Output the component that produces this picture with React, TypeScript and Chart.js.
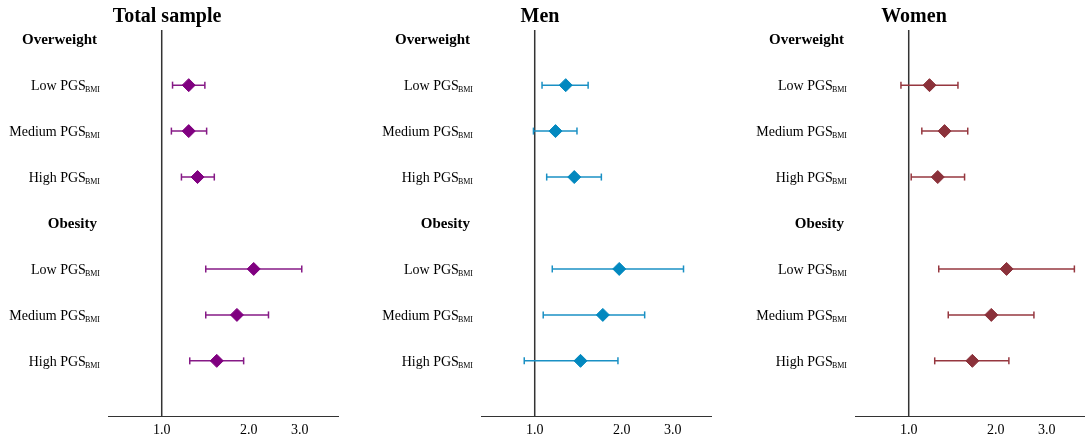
import React, { useEffect, useRef } from "react";
import { Chart, registerables } from "chart.js";

Chart.register(...registerables);

// ---------- data ----------
const panelTitles = ["Total sample", "Men", "Women"];
const outcomeLabels = ["Overweight", "Obesity"];
const pgsLabels = ["Low PGS", "Medium PGS", "High PGS", "Low PGS", "Medium PGS", "High PGS"];
const pgsSubscript = "BMI";
const headerRows = [0, 4];
const estimateRows = [1, 2, 3, 5, 6, 7];
const xTicks = [1.0, 2.0, 3.0];
const refValue = 1.0;

const totalOR = [1.24, 1.24, 1.33, 2.08, 1.82, 1.55];
const totalLo = [1.09, 1.08, 1.17, 1.42, 1.42, 1.25];
const totalHi = [1.41, 1.43, 1.52, 3.05, 2.34, 1.92];

const menOR = [1.28, 1.18, 1.37, 1.96, 1.72, 1.44];
const menLo = [1.06, 0.99, 1.1, 1.15, 1.07, 0.92];
const menHi = [1.53, 1.4, 1.7, 3.27, 2.4, 1.94];

const womenOR = [1.18, 1.33, 1.26, 2.18, 1.93, 1.66];
const womenLo = [0.94, 1.11, 1.02, 1.27, 1.37, 1.23];
const womenHi = [1.48, 1.6, 1.56, 3.74, 2.71, 2.22];

const panelColors = ["#800080", "#0288BF", "#8B313A"];
const whiskerColors = ["#861A86", "#1A90C4", "#96373F"];

// ---------- layout ----------
const X_MIN = 0.652;
const X_MAX = 4.07;
const Y_MIN = -0.2;
const Y_MAX = 8.2;
const PANEL_W = 373;
const PANEL_H = 440;
const PANEL_LEFTS = [0, 373, 747];
const SERIF = '"Liberation Serif", "Times New Roman", serif';

type PanelProps = {
  title: string;
  or: number[];
  lo: number[];
  hi: number[];
  color: string;
  whisker: string;
};

function Panel({ title, or, lo, hi, color, whisker }: PanelProps) {
  const ref = useRef<HTMLCanvasElement | null>(null);

  useEffect(() => {
    if (!ref.current) return;

    const labelPlugin = {
      id: "forestLabels",
      afterDraw(chart: any) {
        const ctx = chart.ctx;
        const yScale = chart.scales.y;
        ctx.save();
        ctx.fillStyle = "#000";
        // title
        ctx.font = `bold 20px ${SERIF}`;
        ctx.textAlign = "center";
        ctx.textBaseline = "alphabetic";
        ctx.fillText(title, 167, 22);
        // headers
        ctx.font = `bold 15px ${SERIF}`;
        ctx.textAlign = "right";
        headerRows.forEach((r, i) => {
          const y = yScale.getPixelForValue(r);
          ctx.fillText(outcomeLabels[i], 97, y + 5);
        });
        // row labels with subscript
        estimateRows.forEach((r, i) => {
          const y = yScale.getPixelForValue(r);
          ctx.font = `8px ${SERIF}`;
          const subW = ctx.measureText(pgsSubscript).width;
          ctx.textAlign = "right";
          ctx.fillText(pgsSubscript, 100, y + 7);
          ctx.font = `14px ${SERIF}`;
          ctx.fillText(pgsLabels[i], 100 - subW + 1, y + 5);
        });
        ctx.restore();
      },
    };

    const whiskerSets = estimateRows.map((r, i) => ({
      data: [
        { x: lo[i], y: r },
        { x: hi[i], y: r },
      ],
      showLine: true,
      borderColor: whisker,
      borderWidth: 1.5,
      pointStyle: "line",
      rotation: 90,
      pointRadius: 3.5,
      pointBorderWidth: 1.5,
      pointBorderColor: whisker,
      pointBackgroundColor: whisker,
      order: 2,
    }));

    const chart = new Chart(ref.current, {
      type: "scatter",
      data: {
        datasets: [
          {
            data: [
              { x: refValue, y: Y_MIN },
              { x: refValue, y: Y_MAX },
            ],
            showLine: true,
            borderColor: "#333",
            borderWidth: 1.5,
            pointRadius: 0,
            order: 3,
          } as any,
          ...(whiskerSets as any[]),
          {
            data: estimateRows.map((r, i) => ({ x: or[i], y: r })),
            pointStyle: "rectRot",
            pointRadius: 6.5,
            pointBorderWidth: 1,
            pointBackgroundColor: color,
            pointBorderColor: color,
            order: 0,
          } as any,
        ],
      },
      options: {
        responsive: false,
        animation: false,
        events: [],
        layout: { padding: { left: 108, right: PANEL_W - 338, top: 30, bottom: 0 } },
        plugins: {
          legend: { display: false },
          tooltip: { enabled: false },
          title: { display: false },
        },
        scales: {
          x: {
            type: "logarithmic",
            min: X_MIN,
            max: X_MAX,
            afterBuildTicks: (scale: any) => {
              scale.ticks = xTicks.map((v) => ({ value: v }));
            },
            afterFit: (scale: any) => {
              scale.height = 24;
            },
            grid: { display: false, drawTicks: false },
            border: { display: true, color: "#333", width: 1 },
            ticks: {
              padding: 6,
              color: "#000",
              font: { family: SERIF, size: 14 },
              maxRotation: 0,
              autoSkip: false,
              callback: (v: any) => Number(v).toFixed(1),
            },
          },
          y: {
            type: "linear",
            display: false,
            reverse: true,
            min: Y_MIN,
            max: Y_MAX,
          },
        },
      } as any,
      plugins: [labelPlugin],
    });

    return () => chart.destroy();
  }, [title, or, lo, hi, color, whisker]);

  return <canvas ref={ref} width={PANEL_W} height={PANEL_H} style={{ display: "block" }} />;
}

export default function App() {
  const ors = [totalOR, menOR, womenOR];
  const los = [totalLo, menLo, womenLo];
  const his = [totalHi, menHi, womenHi];
  return (
    <div
      style={{
        position: "fixed",
        left: 0,
        top: 0,
        width: 1085,
        height: 440,
        overflow: "hidden",
        background: "#fff",
      }}
    >
      {panelTitles.map((t, i) => (
        <div key={t} style={{ position: "absolute", left: PANEL_LEFTS[i], top: 0 }}>
          <Panel
            title={t}
            or={ors[i]}
            lo={los[i]}
            hi={his[i]}
            color={panelColors[i]}
            whisker={whiskerColors[i]}
          />
        </div>
      ))}
    </div>
  );
}
